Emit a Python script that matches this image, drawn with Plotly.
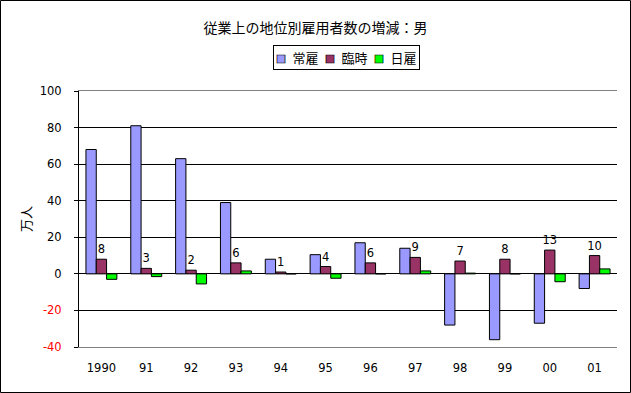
import plotly.graph_objects as go

# ---- data ----
years = ["1990", "91", "92", "93", "94", "95", "96", "97", "98", "99", "00", "01"]
regular = [68, 81, 63, 39, 8, 10.5, 17, 14, -28, -36, -27, -8]        # 常雇
temporary = [8, 3, 2, 6, 1, 4, 6, 9, 7, 8, 13, 10]                     # 臨時
daily = [-3, -1.5, -5.5, 1.6, 0, -2.4, 0, 1.6, 0.4, 0, -4.3, 2.7]      # 日雇
series_names = ["常雇", "臨時", "日雇"]
series_colors = ["#9999FF", "#993366", "#00FF00"]
y_ticks = [-40, -20, 0, 20, 40, 60, 80, 100]
title_text = "従業上の地位別雇用者数の増減：男"
y_title = "万人"

# ---- geometry ----
W, H = 631, 393
L, R, T, B = 79, 14, 91, 46
pw, ph = W - L - R, H - T - B
FONT = "Noto Sans CJK JP"
NUMFONT = "DejaVu Sans"


def px_x(x):
    return (x - L) / pw


def px_y(y):
    return (H - B - y) / ph


xs = list(range(len(years)))
fig = go.Figure()
for name, vals, col in zip(series_names, [regular, temporary, daily], series_colors):
    kw = {}
    if name == "臨時":
        kw = dict(text=[str(v) for v in vals], textposition="outside",
                  textfont=dict(size=11.5, color="black", family=NUMFONT),
                  cliponaxis=False, constraintext="none")
    fig.add_trace(go.Bar(x=xs, y=vals, name=name, marker=dict(color=col, line=dict(color="black", width=1)),
                         showlegend=False, hoverinfo="skip", **kw))

tick_text = [f'<span style="color:red">-{abs(v)}</span>' if v < 0 else str(v) for v in y_ticks]

fig.update_layout(
    width=W, height=H, margin=dict(l=L, r=R, t=T, b=B, autoexpand=False),
    paper_bgcolor="white", plot_bgcolor="white",
    barmode="group", bargap=0.31, bargroupgap=0,
    font=dict(family=FONT, size=12, color="black"),
    title=dict(text=title_text, x=px_x(315.5), xref="paper", xanchor="center",
               y=1 - 28 / H, yref="container", yanchor="middle",
               font=dict(size=14, color="black", family=FONT)),
    showlegend=False,
    xaxis=dict(range=[-0.5, len(years) - 0.5], tickvals=xs, ticktext=years, ticks="",
               showline=True, linecolor="#808080", linewidth=1, mirror=True,
               showgrid=False, zeroline=False, ticklabelstandoff=10, automargin=False,
               tickfont=dict(size=11.5, color="black", family=NUMFONT)),
    xaxis2=dict(overlaying="x", anchor="free", position=40 / 140,
                range=[-0.5, len(years) - 0.5], tickvals=[i - 0.5 for i in range(len(years) + 1)],
                ticks="inside", ticklen=4, tickcolor="black", tickwidth=1,
                showticklabels=False, showline=False, showgrid=False, zeroline=False),
    yaxis=dict(range=[-40, 100], tickvals=y_ticks, ticktext=tick_text,
               ticks="outside", ticklen=4, tickcolor="black",
               showgrid=True, gridcolor="black", gridwidth=1,
               zeroline=True, zerolinecolor="black", zerolinewidth=1,
               showline=True, linecolor="black", linewidth=1, automargin=False,
               tickfont=dict(size=11.5, color="black", family=NUMFONT), ticklabelstandoff=10,
               title=dict(text=y_title, font=dict(size=13, color="black", family=FONT), standoff=5)),
    yaxis2=dict(overlaying="y", side="right", range=[-40, 100], showline=True, linecolor="#808080",
                linewidth=1, showticklabels=False, ticks="", showgrid=False, zeroline=False),
)

# figure frame
fig.add_shape(type="rect", xref="paper", yref="paper",
              x0=px_x(0.5), x1=px_x(630.5), y0=px_y(392.5), y1=px_y(0.5),
              line=dict(color="black", width=1), fillcolor="rgba(0,0,0,0)", layer="above")


def sq(c):
    return f'<span style="color:{c};stroke:black;stroke-width:0.7px;font-size:10px">■</span>'


legend_text = "\u2002".join(f"{sq(c)}\u2002{n}" for n, c in zip(series_names, series_colors))
fig.add_annotation(xref="paper", yref="paper", x=px_x(346.5), y=px_y(57.5),
                   xanchor="center", yanchor="middle", showarrow=False,
                   text=legend_text, font=dict(size=13, color="black", family=FONT),
                   bordercolor="black", borderwidth=1, borderpad=2, bgcolor="white")

fig.write_html("out.html", config={"displayModeBar": False},
               post_script="document.body.style.margin='0';document.body.style.overflow='hidden';")
